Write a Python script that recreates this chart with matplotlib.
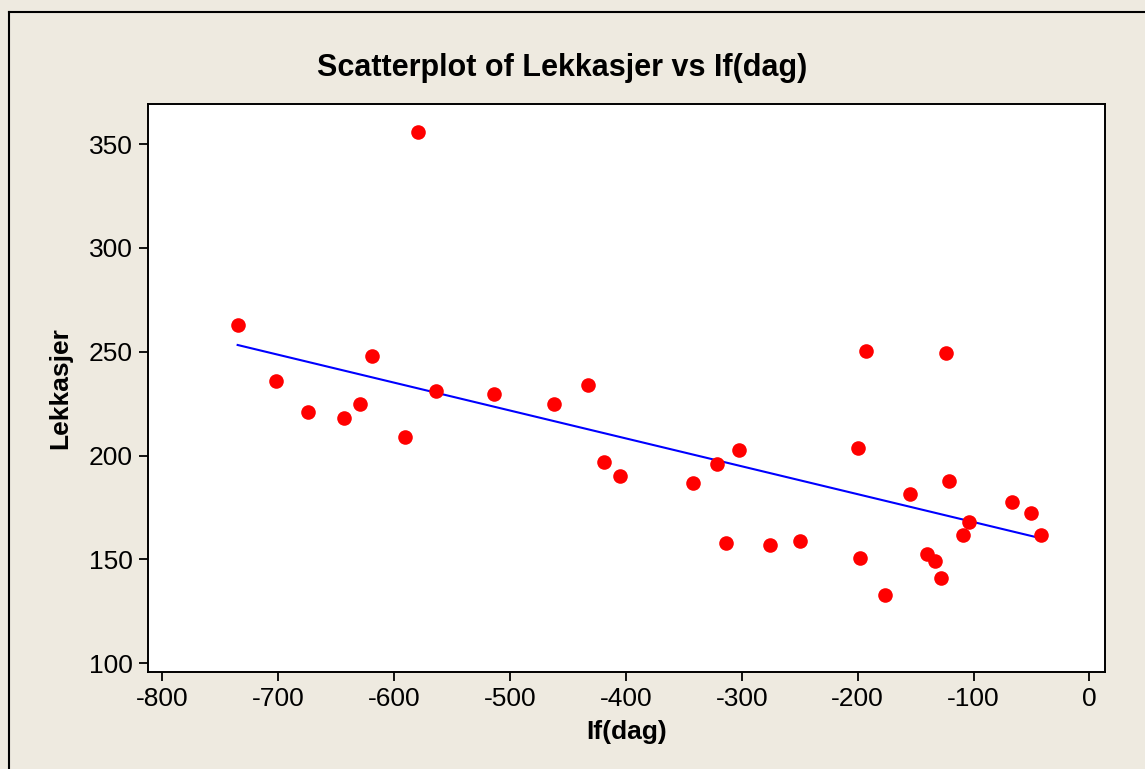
import numpy as np
import matplotlib.pyplot as plt
from matplotlib.lines import Line2D

plt.rcParams['font.family'] = ['Liberation Sans', 'DejaVu Sans']
plt.rcParams['axes.unicode_minus'] = False

# If(dag) vs Lekkasjer
if_dag = [-735, -579, -702, -674, -643, -629, -619, -591, -564, -514,
          -462, -433, -419, -405, -342, -321, -302, -314, -276, -250,
          -200, -193, -198, -176, -155, -140, -133, -128, -124, -121,
          -109, -104, -67, -50, -42]
lekkasjer = [263, 356, 236, 221, 218, 225, 248, 209, 231, 229.5,
             225, 234, 197, 190, 187, 196, 202.5, 158, 157, 159,
             203.5, 250.5, 150.5, 133, 181.5, 152.5, 149.5, 141, 249.5, 188,
             162, 168, 177.5, 172.5, 162]
x_ticks = [-800, -700, -600, -500, -400, -300, -200, -100, 0]
y_ticks = [100, 150, 200, 250, 300, 350]

bg = '#EEEAE0'
fig = plt.figure(figsize=(11.45, 7.69), dpi=100, facecolor=bg)
ax = fig.add_axes([0.129, 0.1261, 0.836, 0.7386], facecolor='white')

x = np.array(if_dag, dtype=float)
y = np.array(lekkasjer, dtype=float)
slope, intercept = np.polyfit(x, y, 1)
xs = np.array([x.min(), x.max()])
ax.plot(xs, intercept + slope * xs, color='#0000FF', lw=1.5, zorder=2)
ax.plot(x, y, 'o', color='#FF0000', markersize=10.5, markeredgewidth=0, zorder=3)

ax.set_xlim(-812.6, 13.4)
ax.set_ylim(95.8, 369.3)
ax.set_xticks(x_ticks)
ax.set_yticks(y_ticks)
ax.tick_params(direction='out', length=6.5, width=1.3, labelsize=19, pad=4)
for s in ax.spines.values():
    s.set_linewidth(1.4)

ax.set_xlabel('If(dag)', fontsize=19, fontweight='bold', labelpad=7)
ax.set_ylabel('Lekkasjer', fontsize=19, fontweight='bold', labelpad=12)
fig.text(0.491, 0.912, 'Scatterplot of Lekkasjer vs If(dag)', ha='center', va='center',
         fontsize=22, fontweight='bold')

# outer frame of the graph window
fig.add_artist(Line2D([9 / 1145, 9 / 1145], [0, 1 - 12 / 769], color='black', lw=1.5,
                      transform=fig.transFigure))
fig.add_artist(Line2D([9 / 1145, 1.0], [1 - 12 / 769, 1 - 12 / 769], color='black', lw=1.5,
                      transform=fig.transFigure))

fig.savefig('out.png', dpi=100, facecolor=bg)
